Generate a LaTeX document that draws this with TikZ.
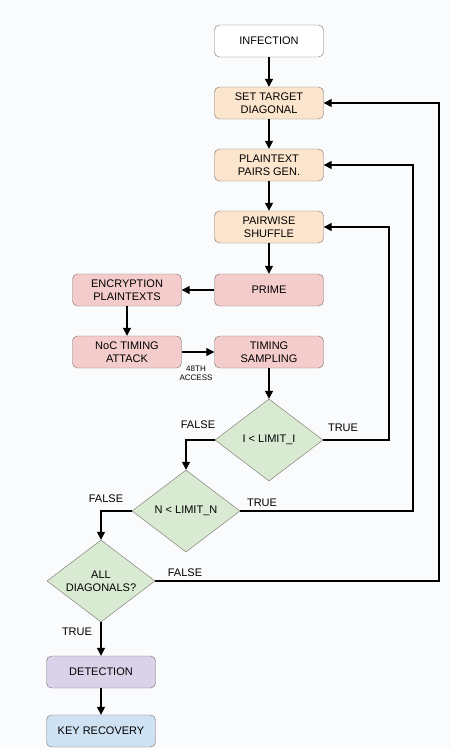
\documentclass[tikz,border=0pt]{standalone}
\usepackage{fontspec}
\setmainfont{Liberation Sans}
\usetikzlibrary{shapes.geometric,arrows.meta}
\definecolor{paper}{RGB}{250,251,253}
\definecolor{setupfill}{RGB}{252,229,205}
\definecolor{attackfill}{RGB}{244,204,204}
\definecolor{testfill}{RGB}{217,234,211}
\definecolor{detectfill}{RGB}{217,210,233}
\definecolor{keyfill}{RGB}{207,226,243}
\definecolor{edgegray}{RGB}{120,110,105}
\begin{document}
\begin{tikzpicture}[x=1pt,y=-1pt,
  box/.style={draw=edgegray, rounded corners=5pt, minimum width=109pt,
    minimum height=32pt, inner sep=1pt, align=center,
    font=\fontsize{11}{13.3}\selectfont},
  test/.style={diamond, draw=edgegray, fill=testfill, aspect=1.32,
    minimum width=108pt, minimum height=82pt, inner sep=0pt, align=center,
    font=\fontsize{11}{13.3}\selectfont},
  flow/.style={line width=1.3pt, -{Triangle[length=8pt,width=8pt]}},
  lbl/.style={font=\fontsize{11}{12}\selectfont},
  tiny/.style={font=\fontsize{8}{9.5}\selectfont, align=center}]
  \fill[paper] (0,0) rectangle (451,748);
  % main column
  \node[box, fill=white] (infect) at (269,41) {INFECTION};
  \node[box, fill=setupfill] (target) at (269,103) {SET TARGET\\DIAGONAL};
  \node[box, fill=setupfill] (pairs) at (269,165) {PLAINTEXT\\PAIRS GEN.};
  \node[box, fill=setupfill] (shuffle) at (269,227) {PAIRWISE\\SHUFFLE};
  \node[box, fill=attackfill] (prime) at (269,290) {PRIME};
  \node[box, fill=attackfill] (encrypt) at (127,290) {ENCRYPTION\\PLAINTEXTS};
  \node[box, fill=attackfill] (noc) at (127,352) {NoC TIMING\\ATTACK};
  \node[box, fill=attackfill] (sample) at (269,352) {TIMING\\SAMPLING};
  \node[tiny] (access) at (196,373) {48TH\\ACCESS};
  % decisions
  \node[test] (ilimit) at (269,440) {I < LIMIT\_I};
  \node[test] (nlimit) at (186,511) {N < LIMIT\_N};
  \node[test] (alldiag) at (101,581) {ALL\\DIAGONALS?};
  \node[box, fill=detectfill] (detect) at (101,672) {DETECTION};
  \node[box, fill=keyfill] (keyrec) at (101,731) {KEY RECOVERY};
  % branch labels
  \node[lbl] (itrue) at (343,428) {TRUE};
  \node[lbl] (ifalse) at (198,425) {FALSE};
  \node[lbl] (ntrue) at (262,503) {TRUE};
  \node[lbl] (nfalse) at (106,499) {FALSE};
  \node[lbl] (afalse) at (185,573) {FALSE};
  \node[lbl] (atrue) at (77,632) {TRUE};
  % loop corners
  \coordinate (iback) at (389,440);
  \coordinate (nback) at (413,511);
  \coordinate (aback) at (439,581);

  \draw[flow] (infect) -- (target);
  \draw[flow] (target) -- (pairs);
  \draw[flow] (pairs) -- (shuffle);
  \draw[flow] (shuffle) -- (prime);
  \draw[flow] (prime) -- (encrypt);
  \draw[flow] (encrypt) -- (noc);
  \draw[flow] (noc) -- (sample);
  \draw[flow] (sample) -- (ilimit);
  \draw[flow] (ilimit.west) -| (nlimit.north);
  \draw[flow] (nlimit.west) -| (alldiag.north);
  \draw[flow] (alldiag.south) -- (detect);
  \draw[flow] (detect) -- (keyrec);
  \draw[flow] (ilimit.east) -- (iback) |- (shuffle.east);
  \draw[flow] (nlimit.east) -- (nback) |- (pairs.east);
  \draw[flow] (alldiag.east) -- (aback) |- (target.east);
\end{tikzpicture}
\end{document}
